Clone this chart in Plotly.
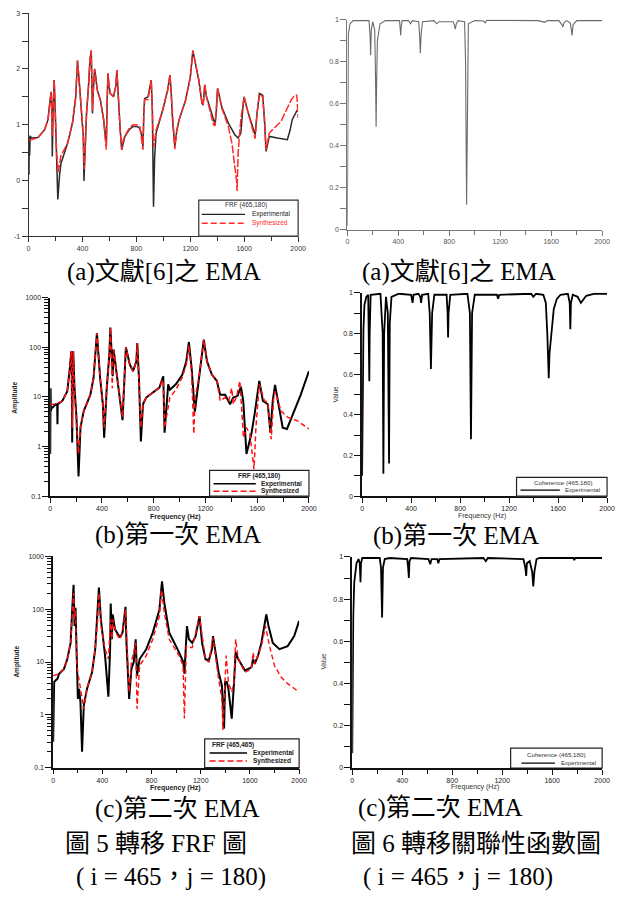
import plotly.graph_objects as go

W, H = 619, 897
SANS = "Liberation Sans, Arial, sans-serif"
SERIF = "Liberation Serif, 'Times New Roman', 'Noto Sans CJK TC', serif"

# ---------------- tick definitions ----------------
FREQ_TICKS = [0, 400, 800, 1200, 1600, 2000]
FREQ_MINOR = [200, 600, 1000, 1400, 1800]
LOG10_TICKS = [-1, 0, 1, 2, 3]
LOG10_MINOR = [-0.5, 0.5, 1.5, 2.5]
AMP_TICKS = [0.1, 1, 10, 100, 1000]
AMP_TICKTEXT = ["0.1", "1", "10", "100", "1000"]
AMP_MINOR = [m * 10.0 ** e for e in (-1, 0, 1, 2) for m in range(2, 10)]
COH_TICKS = [0, 0.2, 0.4, 0.6, 0.8, 1]
COH_TICKTEXT = ["0", "0.2", "0.4", "0.6", "0.8", "1"]
COH_MINOR = [0.1, 0.3, 0.5, 0.7, 0.9]

# ---------------- (a) literature EMA : log10 FRF ----------------
A_EXP = [(0, 0.79), (3, 0.10), (5, 0.78), (8, 0.45), (12, 0.80), (22, 0.76), (70, 0.77),
         (119, 0.91), (144, 1.09), (160, 1.45), (168, 1.59), (173, 1.3), (176, 0.43),
         (182, 1.2), (190, 1.8), (196, 1.4), (205, 0.5), (217, -0.34), (230, 0.1),
         (241, 0.31), (290, 0.67), (326, 1.03), (350, 1.5), (363, 2.15), (375, 1.8),
         (387, 1.38), (406, 0.79), (411, -0.01), (418, 0.5), (430, 1.2), (445, 1.7),
         (455, 2.15), (465, 2.33), (470, 1.8), (474, 1.2), (480, 1.6), (490, 2.0),
         (496, 1.9), (510, 1.62), (533, 1.44), (557, 1.09), (570, 0.8), (577, 0.67),
         (583, 1.4), (589, 1.92), (597, 1.7), (606, 1.56), (630, 1.5), (648, 1.7),
         (655, 1.98), (667, 1.38), (680, 0.9), (691, 0.55), (700, 0.65), (715, 0.79),
         (750, 0.92), (776, 0.97), (800, 0.97), (825, 0.94), (840, 0.8), (849, 0.61),
         (855, 1.2), (861, 1.47), (886, 1.5), (905, 1.75), (910, 1.8), (918, 1.3),
         (922, 0.2), (927, -0.47), (935, 0.4), (946, 0.85), (995, 1.26), (1032, 1.62),
         (1049, 1.89), (1058, 1.6), (1068, 1.09), (1085, 0.61), (1100, 0.9), (1117, 1.09),
         (1165, 1.44), (1200, 1.85), (1219, 2.33), (1240, 2.05), (1263, 1.8), (1287, 1.38),
         (1295, 1.35), (1307, 1.71), (1320, 1.5), (1336, 1.38), (1372, 1.09), (1384, 1.0),
         (1395, 1.3), (1402, 1.65), (1412, 1.55), (1433, 1.32), (1482, 1.03), (1530, 0.82),
         (1555, 0.76), (1575, 0.85), (1590, 1.3), (1599, 1.5), (1625, 1.25), (1652, 1.03),
         (1681, 0.82), (1695, 1.2), (1713, 1.56), (1737, 1.53), (1750, 1.1), (1762, 0.52),
         (1775, 0.7), (1786, 0.79), (1847, 0.76), (1920, 0.73), (1940, 0.9), (1956, 1.09),
         (1993, 1.26), (2000, 1.23)]
A_SYN = [(0, 0.72), (22, 0.73), (70, 0.77), (119, 0.91), (144, 1.09), (160, 1.45),
         (168, 1.59), (172, 1.1), (176, 0.8), (182, 1.3), (190, 1.8), (196, 1.4), (208, 0.5),
         (219, 0.15), (230, 0.3), (241, 0.45), (290, 0.67), (326, 1.03), (350, 1.5),
         (363, 2.15), (375, 1.8), (387, 1.38), (406, 0.79), (413, 0.2), (420, 0.6),
         (430, 1.2), (445, 1.7), (455, 2.15), (465, 2.33), (470, 1.8), (474, 1.25),
         (480, 1.6), (490, 2.0), (496, 1.9), (510, 1.62), (533, 1.44), (557, 1.09),
         (570, 0.7), (577, 0.55), (583, 1.4), (589, 1.92), (597, 1.7), (606, 1.56),
         (630, 1.5), (648, 1.7), (655, 1.98), (667, 1.38), (680, 0.9), (691, 0.55),
         (700, 0.7), (715, 0.8), (750, 0.95), (776, 1.0), (800, 1.0), (825, 0.97),
         (840, 0.7), (849, 0.55), (855, 1.2), (861, 1.45), (886, 1.45), (905, 1.75),
         (910, 1.8), (918, 1.3), (927, 0.6), (935, 0.7), (946, 0.9), (995, 1.26),
         (1032, 1.62), (1049, 1.9), (1058, 1.6), (1068, 1.09), (1085, 0.56), (1100, 0.9),
         (1117, 1.09), (1165, 1.44), (1200, 1.85), (1219, 2.33), (1240, 2.05), (1263, 1.8),
         (1287, 1.38), (1295, 1.35), (1307, 1.72), (1320, 1.5), (1336, 1.35), (1372, 1.0),
         (1384, 0.98), (1395, 1.3), (1402, 1.65), (1412, 1.55), (1433, 1.3), (1482, 0.97),
         (1510, 0.65), (1530, 0.25), (1543, 0.0), (1547, -0.19), (1555, 0.5), (1575, 1.1),
         (1590, 1.4), (1599, 1.5), (1625, 1.25), (1652, 1.0), (1681, 0.75), (1695, 1.2),
         (1713, 1.55), (1737, 1.5), (1750, 1.1), (1762, 0.55), (1775, 0.75), (1786, 0.85),
         (1847, 1.0), (1871, 1.05), (1920, 1.3), (1950, 1.45), (1976, 1.53), (1990, 1.53),
         (1996, 1.3), (2000, 1.12)]
A_COH = [(0, 0.02), (3, 0.5), (5, 0.9), (8, 0.93), (21, 0.98), (46, 0.995), (170, 0.995),
         (178, 0.93), (183, 0.83), (188, 0.95), (200, 0.99), (215, 0.95), (222, 0.7),
         (226, 0.49), (230, 0.7), (236, 0.9), (257, 0.98), (300, 0.995), (410, 0.995),
         (416, 0.96), (419, 0.925), (422, 0.96), (430, 0.995), (480, 0.995), (496, 0.98),
         (510, 0.995), (560, 0.99), (567, 0.93), (573, 0.84), (579, 0.93), (590, 0.99),
         (680, 0.995), (702, 0.98), (720, 0.99), (830, 0.99), (842, 0.97), (848, 0.955),
         (855, 0.98), (870, 0.995), (920, 0.99), (928, 0.8), (936, 0.12), (942, 0.75),
         (950, 0.98), (1000, 0.995), (1070, 0.993), (1082, 0.985), (1095, 0.997),
         (1500, 0.995), (1550, 0.987), (1570, 0.995), (1660, 0.995), (1685, 0.975),
         (1692, 0.965), (1700, 0.985), (1720, 0.995), (1750, 0.985), (1764, 0.925),
         (1772, 0.975), (1800, 0.995), (2000, 0.995)]

# ---------------- (b) first EMA ----------------
B_EXP = [(0, 0.71), (3, 15), (5, 5.2), (10, 6), (18, 6.1), (43, 7.1), (54, 7.1), (56, 2.8),
         (58, 7.1), (94, 8.3), (132, 13), (152, 39), (163, 83), (166, 40), (170, 1.2),
         (174, 40), (178, 83), (188, 15), (203, 3.9), (219, 0.25), (234, 2.4), (259, 5.2),
         (310, 11), (335, 24), (361, 194), (386, 24), (407, 7.1), (417, 1.5), (437, 15),
         (457, 71), (465, 251), (478, 52), (483, 26), (490, 90), (508, 39), (539, 11),
         (559, 3.4), (585, 100), (615, 45), (640, 33), (666, 52), (673, 122), (686, 24),
         (701, 1.26), (717, 7.1), (742, 9.7), (793, 12.2), (844, 15.4), (869, 24), (874, 26),
         (884, 1.9), (912, 18), (925, 14), (971, 18), (1021, 28), (1052, 52), (1072, 128),
         (1093, 38), (1118, 5), (1149, 24), (1174, 83), (1187, 142), (1212, 52), (1250, 28),
         (1288, 21), (1314, 11), (1352, 11), (1390, 7.1), (1415, 9.7), (1448, 10.5),
         (1474, 16), (1492, 8.3), (1517, 0.71), (1555, 1.8), (1580, 4.5), (1616, 21),
         (1644, 8.3), (1682, 7.1), (1702, 1.9), (1720, 8.3), (1738, 17.4), (1758, 8.3),
         (1797, 2.4), (1830, 2.26), (1885, 5.2), (1936, 11), (2000, 33)]
B_SYN = [(0, 7.1), (43, 7.1), (94, 8.3), (132, 13), (152, 39), (163, 83), (166, 30),
         (170, 2.4), (174, 30), (178, 83), (188, 12), (203, 3), (219, 0.71), (234, 2.4),
         (259, 5.2), (310, 11), (335, 24), (361, 194), (386, 24), (407, 7.1), (417, 2.4),
         (437, 15), (457, 71), (465, 251), (478, 40), (480, 15), (483, 40), (490, 90),
         (508, 39), (539, 11), (559, 3.9), (585, 100), (615, 45), (640, 33), (666, 52),
         (673, 122), (686, 24), (701, 2.4), (717, 7.1), (742, 9.7), (793, 12.2), (844, 15.4),
         (869, 22), (874, 22), (884, 2.4), (925, 9.7), (971, 14), (1021, 25), (1052, 45),
         (1072, 110), (1093, 30), (1110, 1.8), (1120, 10), (1149, 24), (1174, 83),
         (1187, 142), (1212, 52), (1250, 28), (1288, 22), (1314, 8.3), (1352, 9.7),
         (1380, 8.3), (1403, 15), (1415, 7.1), (1440, 10), (1466, 21), (1494, 1.5),
         (1517, 2.4), (1543, 1.8), (1575, 0.35), (1590, 2.4), (1616, 18), (1656, 8.3),
         (1682, 7.8), (1708, 1.4), (1728, 10), (1738, 13), (1784, 5.2), (1835, 3.9),
         (1910, 3.3), (2000, 2.26)]
B_COH = [(0, 0.1), (5, 0.5), (11, 0.82), (19, 0.94), (35, 0.98), (50, 0.99), (56, 0.8),
         (59, 0.565), (62, 0.8), (70, 0.99), (150, 0.995), (168, 0.8), (174, 0.11),
         (180, 0.8), (195, 0.98), (210, 0.9), (220, 0.16), (226, 0.85), (240, 0.98),
         (300, 0.995), (400, 0.99), (412, 0.95), (420, 0.99), (460, 0.995), (475, 0.98),
         (482, 0.95), (490, 0.99), (540, 0.995), (552, 0.9), (562, 0.625), (572, 0.9),
         (590, 0.99), (690, 0.99), (698, 0.9), (702, 0.78), (706, 0.9), (720, 0.99),
         (860, 0.995), (880, 0.9), (889, 0.28), (898, 0.9), (920, 0.99), (1100, 0.99),
         (1111, 0.97), (1120, 0.99), (1380, 0.995), (1398, 0.98), (1420, 0.995),
         (1480, 0.99), (1500, 0.95), (1512, 0.8), (1520, 0.6), (1524, 0.58), (1530, 0.7),
         (1545, 0.8), (1565, 0.92), (1590, 0.97), (1620, 0.99), (1680, 0.995), (1695, 0.95),
         (1700, 0.82), (1705, 0.95), (1720, 0.99), (1760, 0.98), (1786, 0.95), (1800, 0.96),
         (1830, 0.985), (1900, 0.995), (2000, 0.995)]

# ---------------- (c) second EMA ----------------
C_EXP = [(0, 0.31), (3, 3.1), (8, 4.2), (21, 4.5), (35, 4.8), (48, 6), (88, 7.4),
         (115, 11.4), (142, 23), (155, 98), (166, 290), (174, 48), (182, 106), (190, 17.5),
         (201, 2.0), (211, 3.1), (222, 1.75), (235, 0.2), (249, 1.5), (275, 3.1), (316, 6.4),
         (342, 17.5), (361, 74), (372, 258), (388, 64), (422, 13.2), (449, 2.2), (463, 17.5),
         (468, 128), (478, 27), (484, 80), (503, 41.6), (543, 29), (564, 36), (588, 111),
         (596, 23), (618, 2.0), (636, 7.4), (655, 9.9), (671, 27), (682, 5.5), (703, 11.4),
         (757, 17.5), (810, 36), (864, 98), (885, 335), (904, 131), (944, 36), (1024, 15.2),
         (1059, 9.9), (1067, 6), (1078, 17.5), (1088, 48), (1104, 27), (1131, 23),
         (1158, 31), (1190, 74), (1211, 23), (1238, 11.4), (1265, 10.6), (1291, 17.5),
         (1300, 31), (1318, 15.2), (1345, 6.4), (1372, 3.6), (1390, 0.55), (1398, 4.2),
         (1412, 4.2), (1425, 3.1), (1452, 0.85), (1471, 4.2), (1484, 15.2), (1505, 11.4),
         (1559, 6.9), (1612, 7.9), (1626, 11.4), (1639, 9.2), (1666, 13.2), (1693, 23),
         (1714, 48), (1733, 80), (1751, 48), (1786, 23), (1840, 17.5), (1907, 20),
         (1960, 31), (2000, 60)]
C_SYN = [(0, 5.5), (48, 6), (88, 7.4), (115, 11.4), (142, 23), (155, 98), (166, 202),
         (174, 64), (182, 98), (192, 8.5), (222, 3.1), (249, 1.3), (275, 3.1), (316, 6.4),
         (342, 17.5), (361, 60), (372, 202), (388, 50), (422, 17.5), (449, 11.4), (468, 64),
         (478, 27), (484, 64), (510, 36), (543, 27), (564, 36), (588, 98), (618, 2.7),
         (636, 9.9), (671, 23), (682, 1.3), (703, 8.5), (757, 13.2), (810, 27), (864, 74),
         (880, 234), (904, 85), (944, 27), (1024, 13.2), (1056, 8.5), (1067, 0.85),
         (1083, 20), (1104, 18.8), (1131, 18.8), (1190, 74), (1238, 11.4), (1265, 9.9),
         (1300, 29), (1345, 4.8), (1372, 2.0), (1380, 0.52), (1398, 3.1), (1407, 13.2),
         (1425, 4.2), (1452, 2.7), (1471, 4.2), (1484, 27), (1505, 11.4), (1559, 6.4),
         (1612, 7.4), (1626, 15.2), (1639, 9.2), (1693, 20), (1727, 48), (1759, 20),
         (1800, 8.5), (1853, 5.2), (1907, 3.9), (2000, 2.7)]
C_COH = [(0, 0.07), (5, 0.6), (8, 0.72), (16, 0.88), (34, 0.97), (50, 0.99), (60, 0.97),
         (66, 0.88), (70, 0.97), (80, 0.995), (220, 0.995), (230, 0.95), (239, 0.713),
         (246, 0.95), (260, 0.99), (300, 0.995), (440, 0.99), (447, 0.95), (453, 0.9),
         (458, 0.98), (470, 0.995), (610, 0.99), (624, 0.965), (635, 0.99), (680, 0.99),
         (689, 0.97), (698, 0.99), (1050, 0.995), (1069, 0.98), (1085, 0.995), (1370, 0.99),
         (1385, 0.95), (1392, 0.91), (1398, 0.97), (1420, 0.98), (1440, 0.93), (1449, 0.86),
         (1458, 0.93), (1475, 0.99), (1500, 0.995), (1770, 0.995), (1777, 0.985),
         (1785, 0.995), (2000, 0.995)]


def xs(d):
    return [p[0] for p in d]


def ys(d):
    return [p[1] for p in d]


def px(x):
    return x / W


def py(y):
    return 1 - y / H


fig = go.Figure()


def line(d, ax, color, width, dash="solid"):
    fig.add_trace(go.Scatter(x=xs(d), y=ys(d), mode="lines", xaxis="x" + ax, yaxis="y" + ax,
                             line=dict(color=color, width=width, dash=dash),
                             showlegend=False, hoverinfo="skip"))


line(A_EXP, "", "#2a2a2a", 1.5)
line(A_SYN, "", "#ff2a2a", 1.5, "8px,2px")
line(A_COH, "2", "#6a6a6a", 1.1)
line(B_EXP, "3", "#000000", 2.0)
line(B_SYN, "3", "#ff1010", 1.5, "5px,3px")
line(B_COH, "4", "#000000", 1.8)
line(C_EXP, "5", "#000000", 2.0)
line(C_SYN, "5", "#ff1010", 1.4, "5px,3px")
line(C_COH, "6", "#000000", 1.8)


def xaxis(x0, x1, anchor, color, lw, fc):
    return dict(domain=[px(x0), px(x1)], anchor=anchor, range=[0, 2000],
                tickmode="array", tickvals=FREQ_TICKS, ticktext=[str(v) for v in FREQ_TICKS],
                ticks="outside", ticklen=5, tickwidth=1, tickcolor=color,
                showline=True, linecolor=color, linewidth=lw, showgrid=False, zeroline=False,
                tickfont=dict(size=7, color=fc, family=SANS),
                minor=dict(tickmode="array", tickvals=FREQ_MINOR, ticks="outside", ticklen=4,
                           tickcolor=color, showgrid=False))


def yaxis(y0, y1, anchor, color, lw, fc, kind):
    d = dict(domain=[py(y1), py(y0)], anchor=anchor, ticks="outside", ticklen=6,
             tickwidth=1, tickcolor=color, showline=True, linecolor=color, linewidth=lw,
             showgrid=False, zeroline=False, tickfont=dict(size=7, color=fc, family=SANS),
             tickmode="array")
    if kind == "log10":
        d.update(range=[-1, 3], tickvals=LOG10_TICKS, ticktext=[str(v) for v in LOG10_TICKS],
                 minor=dict(tickmode="array", tickvals=LOG10_MINOR, ticks="outside",
                            ticklen=6, tickcolor=color, showgrid=False))
    elif kind == "log":
        d.update(type="log", range=[-1, 3], tickvals=AMP_TICKS, ticktext=AMP_TICKTEXT,
                 minor=dict(tickmode="array", tickvals=AMP_MINOR, ticks="outside",
                            ticklen=4, tickcolor=color, showgrid=False))
    else:
        d.update(range=[0, 1], tickvals=COH_TICKS, ticktext=COH_TICKTEXT,
                 minor=dict(tickmode="array", tickvals=COH_MINOR, ticks="outside",
                            ticklen=6, tickcolor=color, showgrid=False))
    return d


fig.update_layout(
    xaxis=xaxis(27, 301, "y", "#333", 1, "#333"),
    yaxis=yaxis(9.3, 234, "x", "#333", 1, "#333", "log10"),
    xaxis2=xaxis(351, 610, "y2", "#777", 1, "#555"),
    yaxis2=yaxis(15.7, 227.7, "x2", "#777", 1, "#555", "coh"),
    xaxis3=xaxis(49, 312, "y3", "#111", 1.5, "#222"),
    yaxis3=yaxis(296, 496, "x3", "#111", 1.5, "#222", "log"),
    xaxis4=xaxis(366, 615, "y4", "#111", 1.5, "#222"),
    yaxis4=yaxis(291, 496, "x4", "#111", 1.5, "#222", "coh"),
    xaxis5=xaxis(52, 302, "y5", "#111", 1.5, "#222"),
    yaxis5=yaxis(556.7, 769.7, "x5", "#111", 1.5, "#222", "log"),
    xaxis6=xaxis(356, 610, "y6", "#111", 1.5, "#222"),
    yaxis6=yaxis(557.3, 770, "x6", "#111", 1.5, "#222", "coh"),
)

annotations = []
shapes = []


def text(x, y, s, size, color="black", family=SANS, angle=0, xanchor="center"):
    annotations.append(dict(x=px(x), y=py(y), xref="paper", yref="paper", text=s,
                            showarrow=False, font=dict(size=size, color=color, family=family),
                            textangle=angle, xanchor=xanchor, yanchor="middle"))


def box(x0, y0, x1, y1, color="black", width=1):
    shapes.append(dict(type="rect", xref="paper", yref="paper", x0=px(x0), x1=px(x1),
                       y0=py(y1), y1=py(y0), line=dict(color=color, width=width),
                       fillcolor="white", layer="above"))


def sample(x0, x1, y, color, width, dash="solid"):
    shapes.append(dict(type="line", xref="paper", yref="paper", x0=px(x0), x1=px(x1),
                       y0=py(y), y1=py(y), line=dict(color=color, width=width, dash=dash),
                       layer="above"))


# axis titles
text(13, 397, "<b>Amplitude</b>", 6.5, "#222", angle=-90)
text(176, 517, "<b>Frequency (Hz)</b>", 7, "#222")
text(339, 393, "Value", 6.5, "#333", angle=-90)
text(488, 516, "Frequency (Hz)", 7, "#333")
text(15, 663, "<b>Amplitude</b>", 6.5, "#222", angle=-90)
text(176, 790, "<b>Frequency (Hz)</b>", 7, "#222")
text(327, 662, "Value", 6.5, "#333", angle=-90)
text(481, 789, "Frequency (Hz)", 7, "#333")

# legends
box(200, 197.7, 301, 234, "#333", 1.2)
text(248, 202.5, "FRF (465,180)", 6.5, "#333")
sample(203, 247, 212, "#222", 1.2)
text(252, 212, "Experimental", 6.5, "#222", xanchor="left")
sample(203, 247, 221, "#ff2a2a", 1.6, "6px,3px")
text(252, 221, "Synthesized", 6.5, "#ff2a2a", xanchor="left")

box(211, 470, 312, 496, "#222", 1.2)
text(261, 476, "<b>FRF (465,180)</b>", 6.5, "#222")
sample(215, 258, 483.5, "#000", 1.5)
text(261, 483.5, "<b>Experimental</b>", 6.5, "#222", xanchor="left")
sample(215, 258, 491, "#ff1010", 1.5, "6px,3px")
text(261, 491, "<b>Synthesized</b>", 6.5, "#222", xanchor="left")

box(523, 477, 615, 496, "#222", 1.2)
text(570, 482, "Coherence (465,180)", 6.2, "#333")
sample(527, 567, 490, "#000", 1.2)
text(610, 490, "Experimental", 6, "#333", xanchor="right")

box(206, 740.7, 302, 769.7, "#222", 1.2)
text(235, 747, "<b>FRF (465,465)</b>", 6.5, "#222")
sample(211, 249, 755, "#000", 1.5)
text(253, 755, "<b>Experimental</b>", 6.5, "#222", xanchor="left")
sample(211, 249, 763, "#ff1010", 1.5, "6px,3px")
text(253, 763, "<b>Synthesized</b>", 6.5, "#222", xanchor="left")

box(517, 750, 610, 770, "#222", 1.2)
text(563, 756.5, "Coherence (465,180)", 6.2, "#333")
sample(528, 562, 765, "#000", 1.2)
text(606, 765, "Experimental", 6, "#333", xanchor="right")

# captions
CAP = 25
text(165, 270, "(a)文獻[6]之 EMA", CAP, family=SERIF)
text(464, 270, "(a)文獻[6]之 EMA", CAP, family=SERIF)
text(179, 535, "(b)第一次 EMA", CAP, family=SERIF)
text(461, 536, "(b)第一次 EMA", CAP, family=SERIF)
text(178, 811, "(c)第二次 EMA", CAP, family=SERIF)
text(446, 810, "(c)第二次 EMA", CAP, family=SERIF)
text(157, 846, "圖 5 轉移 FRF 圖", CAP, family=SERIF)
text(172, 880, "( i = 465，j = 180)", CAP, family=SERIF)
text(482, 846, "圖 6 轉移關聯性函數圖", CAP, family=SERIF)
text(463, 880, "( i = 465，j = 180)", CAP, family=SERIF)

fig.update_layout(width=W, height=H, margin=dict(l=0, r=0, t=0, b=0),
                  paper_bgcolor="white", plot_bgcolor="white", showlegend=False,
                  annotations=annotations, shapes=shapes)

fig.write_html("out.html")
